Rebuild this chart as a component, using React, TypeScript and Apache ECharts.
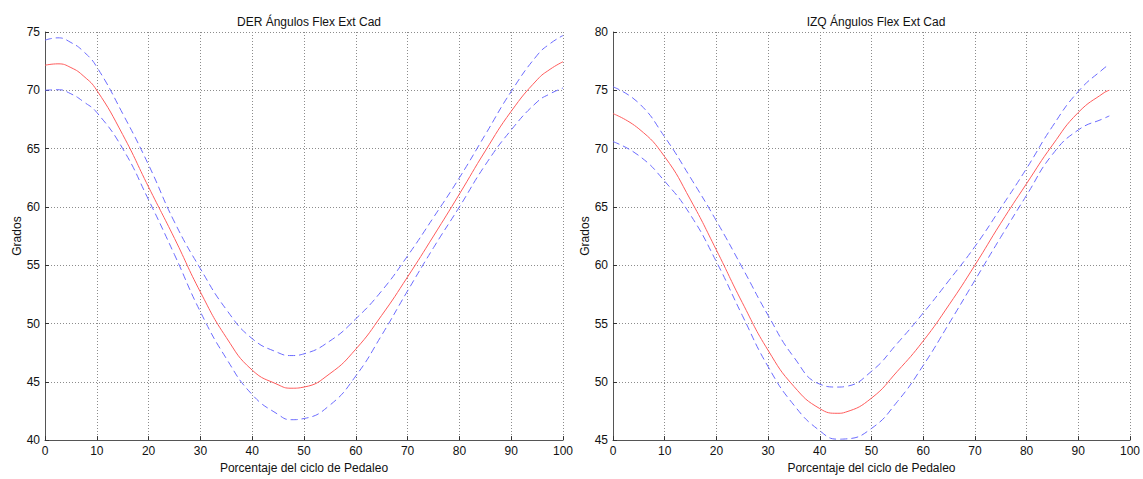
import React, { useEffect, useRef } from "react";
import * as echarts from "echarts";

const derX = [0, 2.5, 5, 7.5, 10, 15, 20, 25, 30, 35, 40, 45, 47.5, 50, 55, 60, 65, 70, 75, 80, 85, 90, 95, 97.5, 100];
const derMean = [72.15, 72.27, 71.95, 71.2, 70.0, 66.2, 61.7, 57.3, 52.7, 48.8, 46.0, 44.75, 44.45, 44.55, 45.7, 47.8, 50.7, 54.0, 57.5, 61.1, 64.8, 68.2, 70.9, 71.8, 72.45];
const derUpper = [74.3, 74.5, 74.1, 73.3, 72.0, 68.0, 63.6, 58.7, 54.7, 51.2, 48.7, 47.5, 47.25, 47.4, 48.5, 50.4, 52.8, 55.8, 59.1, 62.5, 66.2, 69.9, 73.0, 74.0, 74.7];
const derLower = [70.0, 70.05, 69.7, 69.0, 68.1, 65.0, 60.6, 55.9, 51.0, 47.0, 43.9, 42.2, 41.75, 41.85, 43.0, 45.5, 49.0, 52.8, 56.5, 60.0, 63.6, 66.6, 69.0, 69.7, 70.2];

const izqX = [0, 5, 10, 15, 20, 25, 30, 35, 40, 43.5, 45, 50, 55, 60, 65, 70, 75, 80, 85, 90, 95, 96];
const izqMean = [73.0, 71.7, 69.3, 65.6, 61.3, 56.8, 52.7, 49.6, 47.7, 47.3, 47.4, 48.6, 50.9, 53.5, 56.6, 60.0, 63.6, 67.0, 70.3, 73.1, 74.8, 75.0];
const izqUpper = [75.3, 73.9, 71.0, 67.5, 63.8, 59.8, 55.7, 52.1, 49.8, 49.55, 49.6, 50.9, 53.3, 55.9, 58.7, 61.6, 64.9, 68.3, 71.9, 74.9, 76.9, 77.2];
const izqLower = [70.6, 69.4, 67.2, 64.3, 60.3, 55.7, 51.3, 48.0, 45.8, 45.08, 45.1, 46.0, 48.3, 51.4, 55.0, 58.7, 62.4, 66.0, 69.5, 71.6, 72.6, 72.8];

const titles = ["DER Ángulos Flex Ext Cad", "IZQ Ángulos Flex Ext Cad"];
const xName = "Porcentaje del ciclo de Pedaleo";
const yName = "Grados";

const FONT = "'Liberation Sans', Arial, sans-serif";

function pairs(xs: number[], ys: number[]) {
  return xs.map((x, i) => [x, ys[i]]);
}

export default function App() {
  const ref = useRef<HTMLDivElement>(null);
  useEffect(() => {
    if (!ref.current) return;
    const chart = echarts.init(ref.current, undefined, { renderer: "svg" });
    const gridLine = { show: true, lineStyle: { color: "#8c8c8c", type: [1, 2] as any, width: 1 } };
    const mkX = (gi: number) => ({
      type: "value" as const,
      gridIndex: gi,
      min: 0,
      max: 100,
      interval: 10,
      name: xName,
      nameLocation: "middle" as const,
      nameGap: 17,
      nameTextStyle: { fontSize: 12, color: "#111", fontFamily: FONT },
      axisLine: { show: true, lineStyle: { color: "#555", width: 1 } },
      axisTick: { show: true, inside: true, length: 4, lineStyle: { color: "#333" } },
      axisLabel: { fontSize: 12, color: "#111", fontFamily: FONT, margin: 5 },
      splitLine: gridLine,
    });
    const mkY = (gi: number, min: number, max: number) => ({
      type: "value" as const,
      gridIndex: gi,
      min,
      max,
      interval: 5,
      name: yName,
      nameLocation: "middle" as const,
      nameGap: 22,
      nameTextStyle: { fontSize: 12, color: "#111", fontFamily: FONT },
      axisLine: { show: true, lineStyle: { color: "#555", width: 1 } },
      axisTick: { show: true, inside: true, length: 4, lineStyle: { color: "#333" } },
      axisLabel: { fontSize: 12, color: "#111", fontFamily: FONT, margin: 5 },
      splitLine: gridLine,
    });
    const red = { color: "#ff5c5c", width: 1 };
    const blue = { color: "#6b6bff", width: 1, type: [7, 4] as any };
    const line = (gi: number, data: number[][], style: any) => ({
      type: "line" as const,
      xAxisIndex: gi,
      yAxisIndex: gi,
      data,
      smooth: true,
      symbol: "none",
      lineStyle: style,
      itemStyle: { color: style.color },
    });
    chart.setOption({
      animation: false,
      backgroundColor: "#ffffff",
      title: [
        { text: titles[0], left: 304, top: 11, textAlign: "center", textStyle: { fontSize: 12, fontWeight: "normal", color: "#111", fontFamily: FONT } },
        { text: titles[1], left: 871, top: 11, textAlign: "center", textStyle: { fontSize: 12, fontWeight: "normal", color: "#111", fontFamily: FONT } },
      ],
      grid: [
        { left: 45, right: 580, top: 32, bottom: 33 },
        { left: 613, right: 13, top: 32, bottom: 33 },
      ],
      xAxis: [mkX(0), mkX(1)],
      yAxis: [mkY(0, 40, 75), mkY(1, 45, 80)],
      series: [
        line(0, pairs(derX, derUpper), blue),
        line(0, pairs(derX, derLower), blue),
        line(0, pairs(derX, derMean), red),
        line(1, pairs(izqX, izqUpper), blue),
        line(1, pairs(izqX, izqLower), blue),
        line(1, pairs(izqX, izqMean), red),
      ],
    });
    return () => chart.dispose();
  }, []);
  return (
    <div
      ref={ref}
      style={{ position: "fixed", left: 0, top: 0, width: 1143, height: 479, background: "#fff" }}
    />
  );
}
